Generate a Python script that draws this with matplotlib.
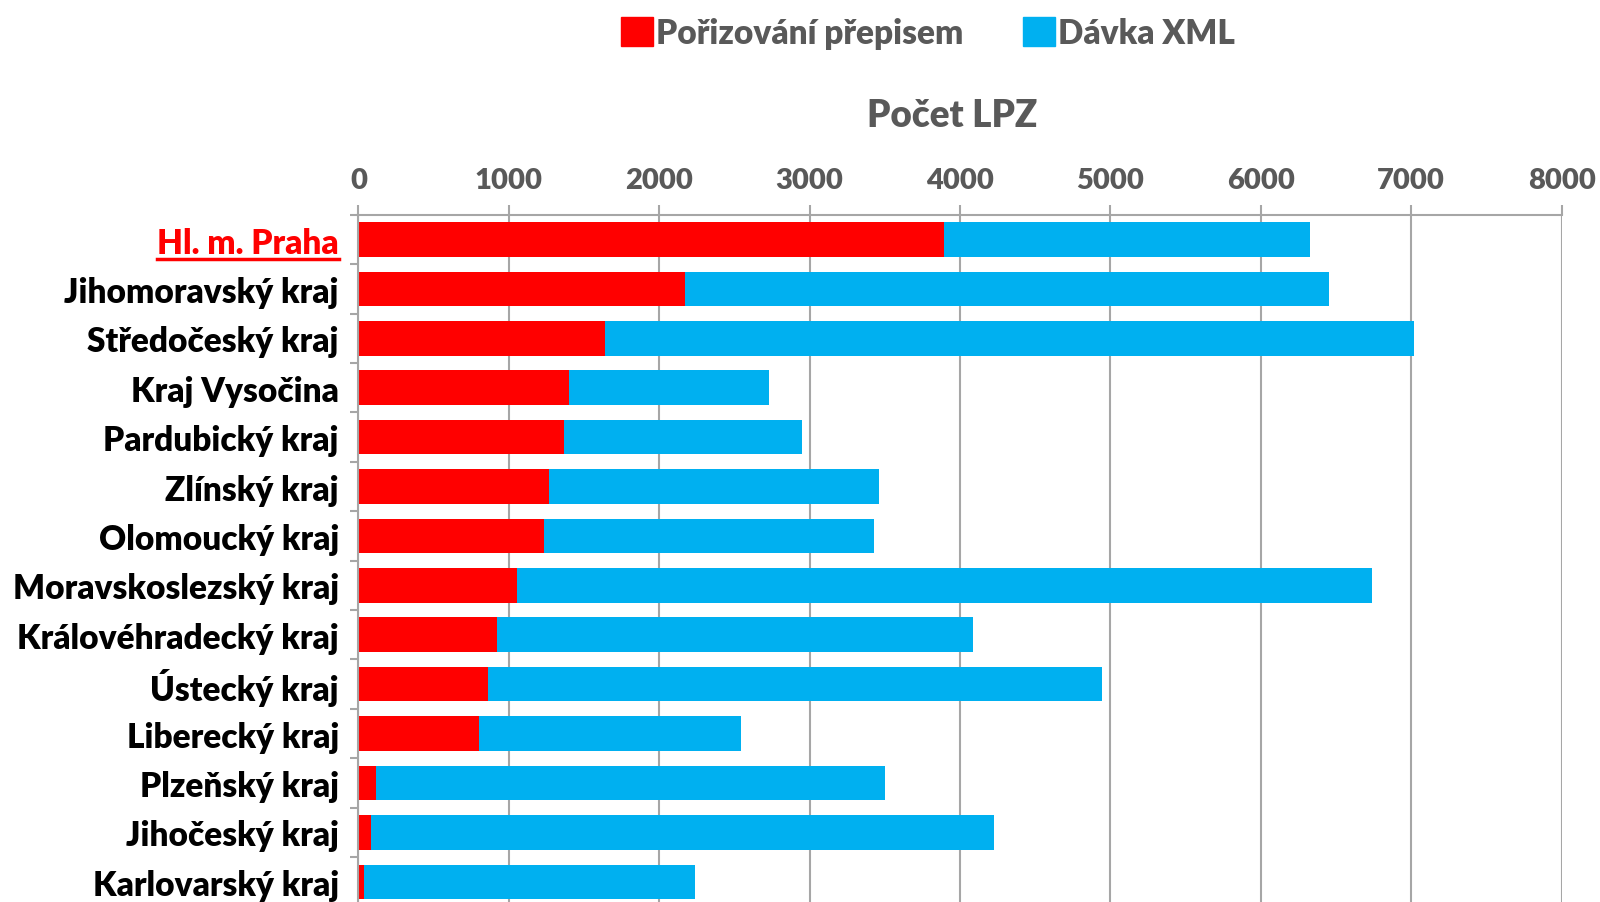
import numpy as np
import matplotlib
matplotlib.use("Agg")
import matplotlib.pyplot as plt
from matplotlib.lines import Line2D
from matplotlib.patches import Patch

# Data
regions = ["Hl. m. Praha", "Jihomoravský kraj", "Středočeský kraj", "Kraj Vysočina",
           "Pardubický kraj", "Zlínský kraj", "Olomoucký kraj", "Moravskoslezský kraj",
           "Královéhradecký kraj", "Ústecký kraj", "Liberecký kraj", "Plzeňský kraj",
           "Jihočeský kraj", "Karlovarský kraj"]
prepis = [3892, 2172, 1640, 1403, 1366, 1268, 1236, 1054, 923, 863, 802, 118, 86, 39]
total = [6327, 6452, 7020, 2733, 2951, 3460, 3427, 6742, 4085, 4942, 2542, 3502, 4225, 2235]
xml = [t - p for t, p in zip(total, prepis)]
xticks = list(range(0, 8001, 1000))

RED = "#FF0000"
BLUE = "#00B0F0"
GRAY = "#A6A6A6"
TXT = "#595959"

plt.rcParams["font.family"] = ["Lato", "DejaVu Sans"]

fig = plt.figure(figsize=(16, 9.03), dpi=100)
ax = fig.add_axes([0.224, -0.005, 0.752, 0.766])

y = np.arange(len(regions))
ax.barh(y, prepis, height=0.7, color=RED, label="Pořizování přepisem")
ax.barh(y, xml, left=prepis, height=0.7, color=BLUE, label="Dávka XML")

ax.set_xlim(0, 8000)
ax.set_ylim(len(regions) - 0.5, -0.5)
ax.xaxis.tick_top()
ax.set_xticks(xticks)
ax.set_xticklabels([str(v) for v in xticks], fontsize=21, fontweight="heavy", color=TXT)
ax.tick_params(axis="x", length=7, width=1.5, color=GRAY, pad=9)
ax.grid(axis="x", color=GRAY, lw=1.5)
ax.set_axisbelow(True)

ax.set_yticks(y)
ax.set_yticklabels(regions, fontsize=24, fontweight="heavy", color="black")
ax.set_yticks(np.arange(-0.5, len(regions)), minor=True)
ax.tick_params(axis="y", which="major", length=0, pad=14)
ax.tick_params(axis="y", which="minor", length=6, width=1.5, color=GRAY)

for s in ["right", "bottom"]:
    ax.spines[s].set_visible(False)
for s in ["top", "left"]:
    ax.spines[s].set_color(GRAY)
    ax.spines[s].set_linewidth(1.5)

first = ax.get_yticklabels()[0]
first.set_color(RED)

fig.text(0.595, 0.871, "Počet LPZ", ha="center", va="center",
         fontsize=26.5, fontweight="heavy", color=TXT)

handles = [Patch(color=RED), Patch(color=BLUE)]
fig.legend(handles, ["Pořizování přepisem", "Dávka XML"], loc="center",
           bbox_to_anchor=(0.58, 0.962), ncol=2, frameon=False,
           prop={"size": 24, "weight": "heavy"}, labelcolor=TXT,
           handlelength=0.95, handleheight=0.95, handletextpad=0.1, columnspacing=1.8)

# underline for the first category label
fig.canvas.draw()
bb = first.get_window_extent()
inv = fig.transFigure.inverted()
(x0, y0), (x1, _) = inv.transform([(bb.x0, bb.y0), (bb.x1, bb.y0)])
fig.add_artist(Line2D([x0, x1], [y0, y0], transform=fig.transFigure, color=RED, lw=2.5))

fig.savefig("out.png", dpi=100)
